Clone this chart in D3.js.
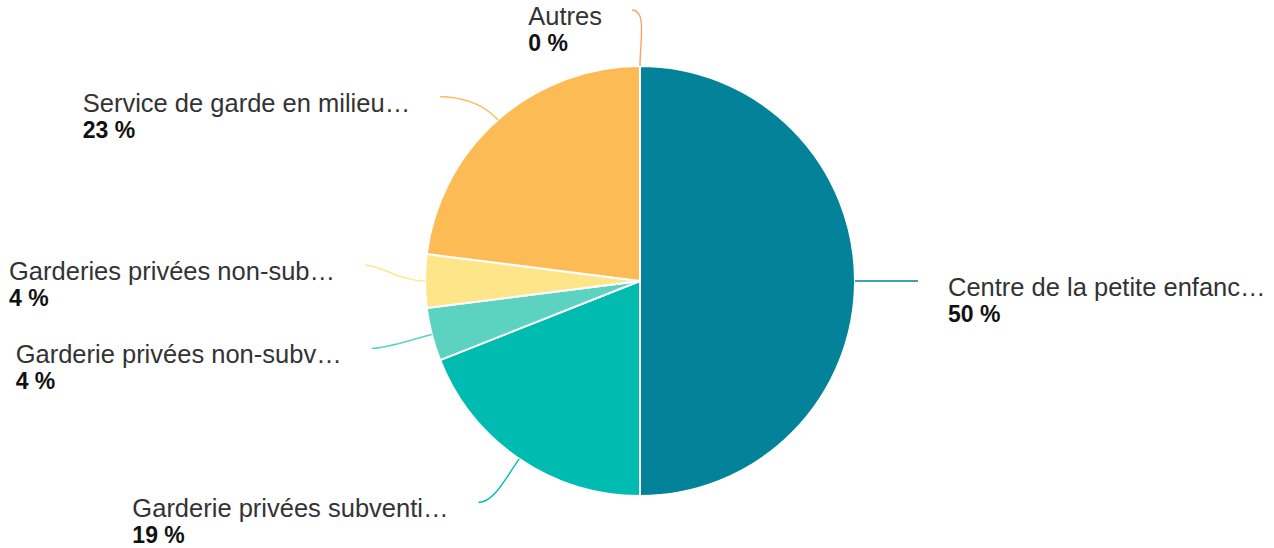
<!DOCTYPE html>
<html>
<head>
<meta charset="utf-8">
<script src="https://cdn.jsdelivr.net/npm/d3@7"></script>
<style>
  body { margin: 0; background: #fff; }
  svg { display: block; font-family: "Liberation Sans", Arial, sans-serif; }
</style>
</head>
<body>
<svg id="chart"></svg>
<script>
// data
const categories = [
    "Centre de la petite enfanc…",
    "Garderie privées subventi…",
    "Garderie privées non-subv…",
    "Garderies privées non-sub…",
    "Service de garde en milieu…",
    "Autres"
];
const values = [50, 19, 4, 4, 23, 0];
const colors = ["#03829a", "#00bcb0", "#5cd3c1", "#fde68a", "#fdbb55", "#f7a468"];

// label end nudges (layout only)
const nudges = [[3, 0], [-7, -6], [-2, -1], [0, -16], [-18, 22], [-8, 4]];

const width = 1274, height = 548;
const cx = 640, cy = 281, r = 215, rLabel = r + 60;

const svg = d3.select("#chart")
    .attr("width", width)
    .attr("height", height);

const data = categories.map((c, i) => ({ name: c, value: values[i], color: colors[i], nudge: nudges[i] }));

const pie = d3.pie().sort(null).value(d => d.value);
const arcs = pie(data);
const arc = d3.arc().innerRadius(0).outerRadius(r);

const g = svg.append("g").attr("transform", `translate(${cx},${cy})`);

g.selectAll("path.slice")
    .data(arcs)
    .join("path")
    .attr("class", "slice")
    .attr("d", arc)
    .attr("fill", d => d.data.color)
    .attr("stroke", "#fff")
    .attr("stroke-width", 2)
    .attr("stroke-linejoin", "round");

function polar(a, rad) {
    return [Math.sin(a) * rad, -Math.cos(a) * rad];
}

arcs.forEach(d => {
    const mid = (d.startAngle + d.endAngle) / 2;
    const p0 = polar(mid, r);
    const c1 = polar(mid, r + 25);
    let end = polar(mid, rLabel);
    end = [end[0] + d.data.nudge[0], end[1] + d.data.nudge[1]];
    const right = Math.sin(mid) > 0.01;
    const c2 = [end[0] + (right ? -15 : 15), end[1]];

    g.append("path")
        .attr("d", `M${p0}C${c1} ${c2} ${end}`)
        .attr("fill", "none")
        .attr("stroke", d.data.color)
        .attr("stroke-width", 1.4);

    const lbl = g.append("g");
    lbl.append("text")
        .attr("y", 15)
        .attr("fill", "#333")
        .style("font-size", "25.5px")
        .text(d.data.name);
    lbl.append("text")
        .attr("y", 41)
        .attr("fill", "#111")
        .style("font-size", "23px")
        .style("font-weight", "bold")
        .text(`${d.data.value} %`);

    const w = lbl.node().getBBox().width;
    const x = right ? end[0] + 30 : end[0] - 30 - w;
    lbl.attr("transform", `translate(${x},${end[1]})`);
});
</script>
</body>
</html>
